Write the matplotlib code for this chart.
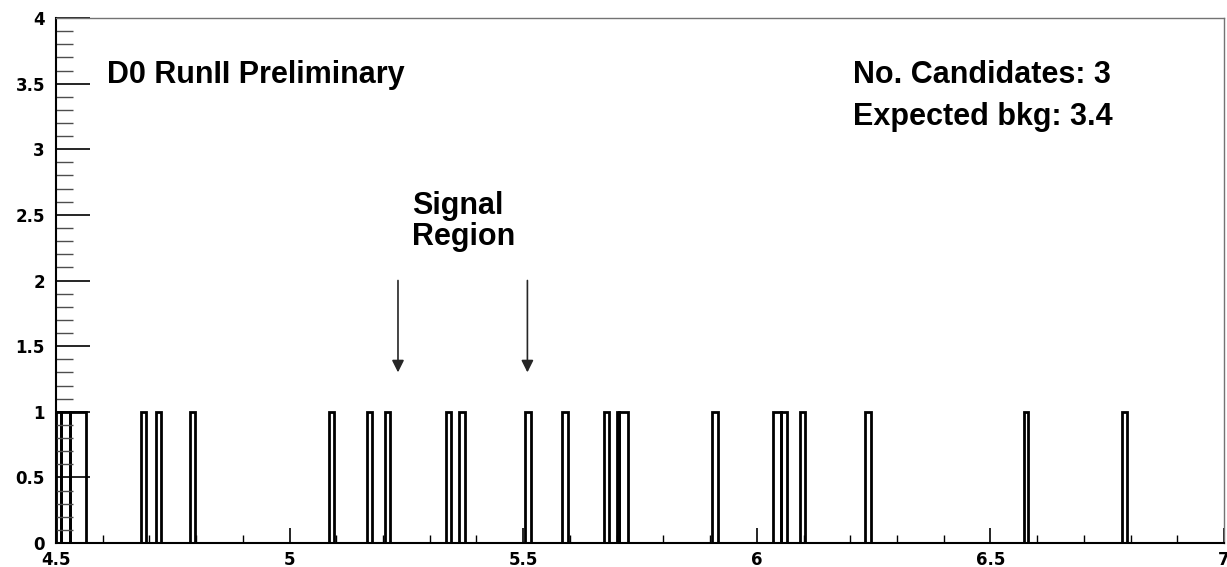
import matplotlib
matplotlib.use("Agg")
import matplotlib.pyplot as plt
from matplotlib.ticker import MultipleLocator, FuncFormatter

plt.rcParams['font.family'] = ['Liberation Sans', 'DejaVu Sans']
plt.rcParams['font.weight'] = 'bold'

# candidate bins (mass, GeV): each bin holds one event
bin_lo = [4.500, 4.511, 4.529, 4.683, 4.714, 4.786, 5.085, 5.165, 5.205,
          5.335, 5.363, 5.504, 5.584, 5.673, 5.701, 5.705, 5.905, 6.034,
          6.051, 6.092, 6.231, 6.571, 6.781]
bin_hi = [4.511, 4.529, 4.565, 4.693, 4.724, 4.798, 5.095, 5.176, 5.215,
          5.346, 5.375, 5.517, 5.595, 5.684, 5.705, 5.724, 5.916, 6.051,
          6.065, 6.103, 6.244, 6.581, 6.793]
counts = [1] * len(bin_lo)

# signal window edges
signal_lo = 5.232
signal_hi = 5.509

n_candidates = 3
expected_bkg = 3.4

W, H = 1227, 567
fig = plt.figure(figsize=(W / 100, H / 100), dpi=100)
ax = fig.add_axes([56 / W, 24 / H, 1168 / W, 525 / H])

widths = [hi - lo for lo, hi in zip(bin_lo, bin_hi)]
ax.bar(bin_lo, counts, width=widths, align='edge', fill=False,
       edgecolor='black', linewidth=2.0)

ax.set_xlim(4.5, 7.0)
ax.set_ylim(0, 4)

ax.xaxis.set_major_locator(MultipleLocator(0.5))
ax.xaxis.set_minor_locator(MultipleLocator(0.1))
ax.yaxis.set_major_locator(MultipleLocator(0.5))
ax.yaxis.set_minor_locator(MultipleLocator(0.1))
fmt = FuncFormatter(lambda v, pos=None: f"{v:g}")
ax.xaxis.set_major_formatter(fmt)
ax.yaxis.set_major_formatter(fmt)

ax.tick_params(axis='x', which='major', direction='in', length=10.8,
               width=1.2, pad=6, labelsize=12)
ax.tick_params(axis='x', which='minor', direction='in', length=5.8, width=1.0)
ax.tick_params(axis='y', which='major', direction='in', length=24.5,
               width=1.2, pad=8, labelsize=12)
ax.tick_params(axis='y', which='minor', direction='in', length=12.2,
               width=1.0, color='0.3')
# tick numbers use the wider DejaVu face
for lab in ax.get_xticklabels() + ax.get_yticklabels():
    lab.set_fontfamily('DejaVu Sans')
    lab.set_fontweight('bold')

for side in ('left', 'bottom'):
    ax.spines[side].set_linewidth(1.5)
    ax.spines[side].set_color('black')
for side in ('top', 'right'):
    ax.spines[side].set_linewidth(1.0)
    ax.spines[side].set_color('0.45')

# arrows marking the signal window
for xm in (signal_lo, signal_hi):
    ax.annotate('', xy=(xm, 1.3), xytext=(xm, 2.0),
                arrowprops=dict(arrowstyle='-|>', color='0.15', lw=1.2,
                                mutation_scale=18, shrinkA=0, shrinkB=0))

txt = dict(transform=ax.transAxes, fontsize=22, fontweight='bold',
           va='baseline', ha='left')
ax.text(0.0434, 0.8756, 'D0 RunII Preliminary', **txt)
ax.text(0.3045, 0.6272, 'Signal', **txt)
ax.text(0.3045, 0.5676, 'Region', **txt)
ax.text(0.6824, 0.8756, f'No. Candidates: {n_candidates}', **txt)
ax.text(0.6824, 0.7962, f'Expected bkg: {expected_bkg}', **txt)

fig.savefig('out.png', dpi=100)
